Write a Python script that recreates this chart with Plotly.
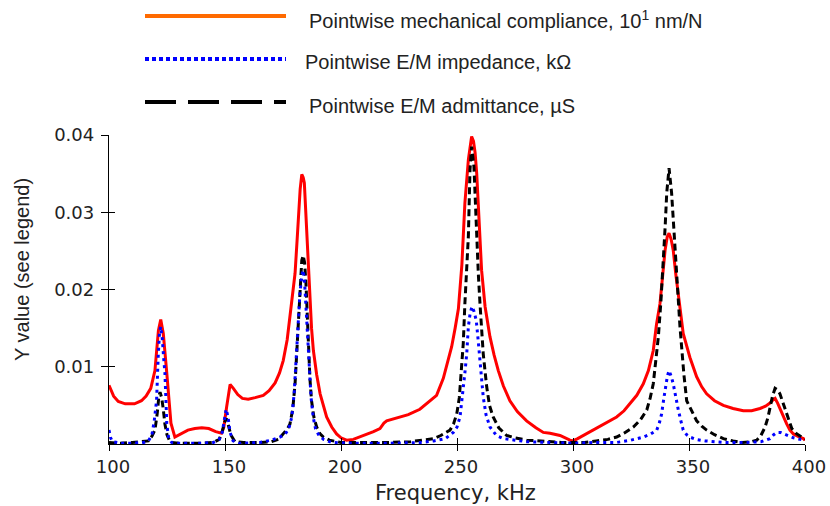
import plotly.graph_objects as go

# ---------------- data ----------------
freq_compliance = [100, 102, 104, 107, 111, 114, 116, 118, 119.8, 121.3, 122.3, 123.4, 124.9, 126.7, 128.4,
                   131.3, 134, 137, 140, 143, 146, 148.5, 149.5, 150.7, 152.2, 153.6, 155.5, 157.5, 160, 163,
                   166.5, 169, 171.6, 173.5, 175.1, 176.8, 178, 179.2, 180.2, 181, 181.6, 182.4, 183.1, 183.7,
                   184.2, 184.7, 185.2, 185.9, 186.6, 187.3, 188.1, 189.5, 191, 192.5, 193.8, 196, 198.1, 200,
                   202.4, 205.3, 208, 211, 214, 216.8, 218.5, 219.7, 222, 225.4, 229, 234, 238, 241.2, 244.1,
                   246, 247.7, 249.2, 250.6, 252.1, 253.4, 254.9, 256.3, 257.1, 257.8, 258.5, 259.2, 260.6,
                   262.1, 264.2, 266, 267.8, 270, 272.8, 276, 280, 284, 287.2, 290.1, 294.4, 298.7, 300, 302,
                   304.4, 308, 311.6, 315, 318.8, 322, 324.6, 327.5, 330.3, 332.5, 334.6, 336, 337.5, 338.7,
                   339.7, 340.6, 341.4, 342.3, 343.2, 344.3, 345.4, 347.5, 350.4, 353.3, 355.5, 357.6, 361,
                   364.8, 369, 373.4, 377, 380.6, 383, 384.9, 386.5, 387.1, 388.2, 389.2, 390.5, 392.1, 393.5,
                   395, 397, 399.3, 400]
compliance = [0.0076, 0.0062, 0.0055, 0.0052, 0.0052, 0.0056, 0.0062, 0.0072, 0.0095, 0.0147, 0.0161, 0.0143,
              0.0092, 0.0027, 0.0009, 0.0014, 0.0018, 0.002, 0.0021, 0.002, 0.0016, 0.0014, 0.0022, 0.0048,
              0.0077, 0.0072, 0.0064, 0.0059, 0.0058, 0.006, 0.0063, 0.0069, 0.0079, 0.0092, 0.0108, 0.0135,
              0.0165, 0.019, 0.0221, 0.026, 0.0295, 0.033, 0.0349, 0.0345, 0.0338, 0.031, 0.0273, 0.023,
              0.0186, 0.015, 0.0121, 0.009, 0.0065, 0.0048, 0.0035, 0.0022, 0.0013, 0.0008, 0.0005, 0.0006,
              0.0009, 0.0013, 0.0016, 0.002, 0.0027, 0.003, 0.0032, 0.0035, 0.0038, 0.0045, 0.0055, 0.0063,
              0.0085, 0.0105, 0.0126, 0.015, 0.0175, 0.0232, 0.0312, 0.0368, 0.0398, 0.0392, 0.0377, 0.035,
              0.0312, 0.0225, 0.0178, 0.0139, 0.0115, 0.0095, 0.0075, 0.0056, 0.0042, 0.003, 0.0021, 0.0015,
              0.0014, 0.0011, 0.0005, 0.0004, 0.0007, 0.0011, 0.0016, 0.0022, 0.0028, 0.0035, 0.0043, 0.0052,
              0.0063, 0.0078, 0.0095, 0.0121, 0.0155, 0.0182, 0.022, 0.0251, 0.0268, 0.0273, 0.0265, 0.0251,
              0.022, 0.0191, 0.0143, 0.0112, 0.0087, 0.0074, 0.0065, 0.0056, 0.005, 0.0046, 0.0043, 0.0043,
              0.0046, 0.0049, 0.0053, 0.0058, 0.0059, 0.0053, 0.0046, 0.0036, 0.0026, 0.0018, 0.0013, 0.001,
              0.0007, 0.0005]

freq_admittance = [100, 105, 110, 115, 117, 118.5, 119.8, 120.8, 121.5, 122, 122.7, 123.4, 124.1, 125, 126,
                   127, 130, 135, 140, 145, 147.5, 148.6, 149.8, 150.7, 151.5, 152.5, 154.3, 158, 165, 170,
                   173, 175.1, 177, 178, 179.2, 180.2, 181, 181.6, 182.4, 183.1, 183.7, 184.3, 184.9, 185.4,
                   185.9, 186.6, 187.3, 188.3, 189.5, 191, 192.4, 195, 200, 210, 220, 230, 236, 240, 243,
                   245.5, 247, 248.5, 249.9, 251, 252, 252.7, 253.4, 254.2, 254.9, 255.6, 256.3, 257.3, 257.9,
                   258.4, 259.2, 259.9, 260.6, 261.3, 262.8, 264, 265.6, 268, 271.4, 275, 280, 285, 290, 295,
                   300, 305, 310, 315, 318.8, 322, 326, 329, 331.8, 333.3, 334.6, 335.8, 336.8, 337.9, 338.9,
                   339.7, 340.4, 341.4, 342.5, 343.3, 344, 344.7, 345.4, 346.1, 346.8, 347.8, 349, 350.4,
                   351.8, 353.3, 355.5, 357.6, 361, 364.8, 369, 373, 377, 379.2, 381, 382.8, 384, 384.9, 386,
                   387.1, 388.2, 389.2, 390.3, 391.4, 392.8, 394.3, 396.5, 398.6, 400]
admittance = [0.0002, 0.0001, 0.0002, 0.0003, 0.0004, 0.001, 0.0018, 0.004, 0.0062, 0.0067, 0.006, 0.0045,
              0.0026, 0.0012, 0.0005, 0.0002, 0.0001, 0.0001, 0.0001, 0.0002, 0.0006, 0.0014, 0.0028, 0.0033,
              0.0025, 0.0012, 0.0003, 0.0002, 0.0002, 0.0003, 0.0006, 0.0013, 0.002, 0.0026, 0.0045, 0.0078,
              0.012, 0.0165, 0.021, 0.0238, 0.0244, 0.0235, 0.0208, 0.017, 0.013, 0.0085, 0.0056, 0.0035,
              0.0022, 0.0013, 0.0009, 0.0005, 0.0002, 0.0002, 0.0002, 0.0003, 0.0005, 0.0007, 0.0011, 0.0015,
              0.0018, 0.0026, 0.0039, 0.006, 0.0095, 0.013, 0.0182, 0.0225, 0.0269, 0.0355, 0.0385, 0.0359,
              0.031, 0.0269, 0.022, 0.0182, 0.0145, 0.0117, 0.0074, 0.005, 0.0035, 0.0021, 0.0011, 0.0008,
              0.0005, 0.0004, 0.0003, 0.0002, 0.0002, 0.0002, 0.0004, 0.0006, 0.0009, 0.0014, 0.0022, 0.0031,
              0.0044, 0.006, 0.0078, 0.011, 0.0139, 0.0185, 0.023, 0.028, 0.0325, 0.0357, 0.0325, 0.029,
              0.0251, 0.022, 0.0186, 0.0152, 0.0121, 0.009, 0.0056, 0.0048, 0.0038, 0.003, 0.0023, 0.0018,
              0.0012, 0.0007, 0.0004, 0.0002, 0.0003, 0.0005, 0.0011, 0.0022, 0.0034, 0.0048, 0.0062, 0.0072,
              0.007, 0.0065, 0.0055, 0.0044, 0.0032, 0.002, 0.0013, 0.0009, 0.0006]

freq_impedance = [100, 100.7, 101.5, 105, 110, 115, 117, 118.5, 119.5, 120.5, 121.2, 121.8, 122.3, 123, 123.6,
                  124.1, 124.5, 124.9, 125.7, 127, 130, 140, 145, 147.5, 148.8, 149.8, 150.5, 151.3, 152.2,
                  153.5, 156, 165, 170, 173.7, 176, 177.5, 178.8, 179.8, 180.7, 181.5, 182.3, 183.1, 183.7,
                  184.3, 185, 185.6, 186.3, 187.1, 188, 189, 190.5, 192.5, 196, 205, 220, 235, 240, 245, 248.4,
                  250, 251.3, 252.1, 252.7, 253.5, 254.2, 254.9, 255.7, 256.5, 257.3, 258.3, 259.1, 259.9,
                  260.6, 261.3, 262.5, 264.2, 267, 270, 275, 280, 290, 300, 310, 318.8, 325, 330.3, 333.5,
                  336.1, 337.3, 338.2, 339.2, 339.9, 340.7, 341.4, 342.3, 343.2, 344.3, 345.4, 346.5, 347.5,
                  349, 350.4, 353, 357, 365, 375, 381, 384.9, 386.5, 387.8, 389.5, 392.1, 395, 398, 400]
impedance = [0.0018, 0.0008, 0.0003, 0.0001, 0.0001, 0.0002, 0.0004, 0.0012, 0.003, 0.0056, 0.0113, 0.0145,
             0.0152, 0.0135, 0.011, 0.0092, 0.006, 0.0026, 0.0008, 0.0002, 0.0001, 0.0001, 0.0002, 0.0006,
             0.0015, 0.0035, 0.0045, 0.0035, 0.0015, 0.0004, 0.0001, 0.0002, 0.0005, 0.0009, 0.0013, 0.002,
             0.0035, 0.0065, 0.011, 0.016, 0.0195, 0.0218, 0.0225, 0.021, 0.0175, 0.0135, 0.0095, 0.006,
             0.0035, 0.002, 0.0011, 0.0006, 0.0002, 0.0001, 0.0001, 0.0002, 0.0004, 0.0007, 0.0015, 0.0022,
             0.0035, 0.0055, 0.0074, 0.0095, 0.0117, 0.0152, 0.017, 0.0178, 0.0172, 0.016, 0.0135, 0.0108,
             0.0085, 0.0061, 0.0038, 0.0022, 0.0011, 0.0007, 0.0005, 0.0003, 0.0002, 0.0001, 0.0002, 0.0002,
             0.0005, 0.0009, 0.0013, 0.0018, 0.0028, 0.0039, 0.006, 0.0074, 0.0088, 0.0095, 0.0088, 0.0078,
             0.006, 0.0044, 0.003, 0.0018, 0.0012, 0.0009, 0.0006, 0.0004, 0.0002, 0.0002, 0.0003, 0.0007,
             0.0012, 0.0015, 0.0015, 0.0012, 0.0008, 0.0006, 0.0005]

x_ticks = [100, 150, 200, 250, 300, 350, 400]
y_ticks = [0.01, 0.02, 0.03, 0.04]
y_tick_text = ["0.01", "0.02", "0.03", "0.04"]

legend_names = ["Pointwise mechanical compliance, 10<sup>1</sup> nm/N",
                "Pointwise E/M impedance, kΩ",
                "Pointwise E/M admittance, µS"]

# ---------------- figure ----------------
W, H = 830, 506
L, R, T, B = 109, 25, 135, 62
pw, ph = W - L - R, H - T - B

def px(xp):
    return (xp - L) / pw

def py(yp):
    return (H - B - yp) / ph

fig = go.Figure()
fig.add_trace(go.Scatter(x=freq_compliance, y=compliance, mode="lines", name=legend_names[0],
                         line=dict(color="#ff0000", width=3), showlegend=False))
fig.add_trace(go.Scatter(x=freq_admittance, y=admittance, mode="lines", name=legend_names[2],
                         line=dict(color="#000000", width=3, dash="7px,4px"), showlegend=False))
fig.add_trace(go.Scatter(x=freq_impedance, y=impedance, mode="lines", name=legend_names[1],
                         line=dict(color="#0000ff", width=3, dash="3px,4px"), showlegend=False))
# helper trace so the overlay axes (inner half of the crossing ticks) are drawn
fig.add_trace(go.Scatter(x=[None], y=[None], xaxis="x2", yaxis="y2", showlegend=False,
                         hoverinfo="skip"))

tick_font = dict(family="DejaVu Sans", size=18, color="#222")
fig.update_layout(
    width=W, height=H, autosize=False,
    margin=dict(l=L, r=R, t=T, b=B, autoexpand=False),
    plot_bgcolor="white", paper_bgcolor="white",
    showlegend=False,
    xaxis=dict(range=[100, 400], tickvals=x_ticks, ticks="outside", ticklen=6, tickwidth=1,
               tickcolor="black", showline=True, linecolor="black", linewidth=1.3,
               showgrid=False, zeroline=False, tickfont=tick_font, ticklabelshift=4,
               automargin=False),
    yaxis=dict(range=[0, 0.04], tickvals=y_ticks, ticktext=y_tick_text, ticks="outside", ticklen=7,
               tickwidth=1, tickcolor="black", showline=True, linecolor="black", linewidth=1.3,
               showgrid=False, zeroline=False, tickfont=tick_font, ticklabelstandoff=3,
               automargin=False),
    xaxis2=dict(range=[100, 400], tickvals=x_ticks, ticks="inside", ticklen=6, tickwidth=1,
                tickcolor="black", showticklabels=False, showline=False, showgrid=False,
                zeroline=False, overlaying="x", anchor="y2", side="bottom", automargin=False),
    yaxis2=dict(range=[0, 0.04], tickvals=y_ticks, ticks="inside", ticklen=6, tickwidth=1,
                tickcolor="black", showticklabels=False, showline=False, showgrid=False,
                zeroline=False, overlaying="y", anchor="x2", side="left", automargin=False),
)

# axis titles
fig.add_annotation(text="Y value (see legend)", xref="paper", yref="paper", x=px(22), y=py(270),
                   textangle=-90, showarrow=False, xanchor="center", yanchor="middle",
                   font=dict(family="Liberation Sans", size=20, color="#222"))
fig.add_annotation(text="Frequency, kHz", xref="paper", yref="paper", x=px(455), y=py(493),
                   showarrow=False, xanchor="center", yanchor="middle",
                   font=dict(family="DejaVu Sans", size=21, color="#222"))

# hand-drawn legend (long sample lines, as in the reference)
legend_styles = [dict(color="#ff6a00", width=4, dash="solid"),
                 dict(color="#0000ff", width=4, dash="4px,3px"),
                 dict(color="#000000", width=4, dash="31px,12px")]
line_y = [16, 59, 102]
text_y = [19, 62, 106]
text_x = [307, 303, 307]
for i in range(3):
    fig.add_shape(type="line", xref="paper", yref="paper", x0=px(145), x1=px(286),
                  y0=py(line_y[i]), y1=py(line_y[i]), line=legend_styles[i])
    fig.add_annotation(text=legend_names[i], xref="paper", yref="paper", x=px(text_x[i]),
                       y=py(text_y[i]), xanchor="left", yanchor="middle", showarrow=False,
                       font=dict(family="Liberation Sans", size=20, color="#222"))

fig.write_html("out.html")
